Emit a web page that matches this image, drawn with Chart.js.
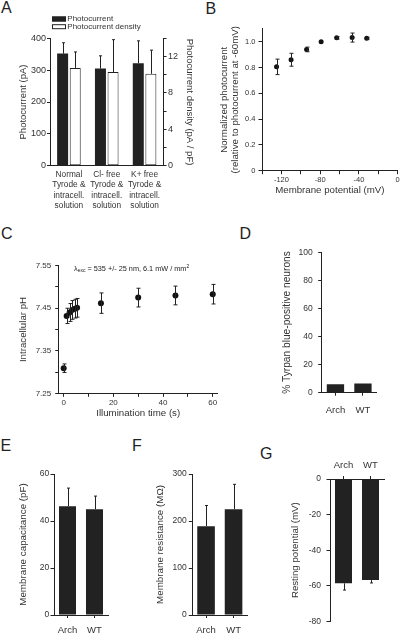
<!DOCTYPE html>
<html><head><meta charset="utf-8">
<script src="https://cdn.jsdelivr.net/npm/chart.js@4.4.0/dist/chart.umd.min.js"></script>
<style>
html,body{margin:0;padding:0;background:#fff;}
body{width:400px;height:633px;position:relative;overflow:hidden;font-family:"Liberation Sans",Arial,sans-serif;color:#222;}
canvas{position:absolute;}
.lbl{position:absolute;font-size:16px;line-height:16px;color:#222;}
</style></head><body>
<div class="lbl" style="left:1px;top:0px">A</div>
<div class="lbl" style="left:205.5px;top:0.5px">B</div>
<div class="lbl" style="left:1px;top:226.3px">C</div>
<div class="lbl" style="left:239.5px;top:226.3px">D</div>
<div class="lbl" style="left:0.5px;top:438px">E</div>
<div class="lbl" style="left:132px;top:438px">F</div>
<div class="lbl" style="left:260px;top:446px">G</div>
<canvas id="cA" width="200" height="201" style="left:0;top:10px"></canvas>
<canvas id="cB" width="200" height="176" style="left:200px;top:20px"></canvas>
<canvas id="cC" width="235" height="170" style="left:0;top:250px"></canvas>
<canvas id="cD" width="130" height="180" style="left:270px;top:240px"></canvas>
<canvas id="cE" width="120" height="173" style="left:0;top:460px"></canvas>
<canvas id="cF" width="120" height="173" style="left:140px;top:460px"></canvas>
<canvas id="cG" width="120" height="193" style="left:280px;top:440px"></canvas>
<script>
// ---------- DATA ----------
// Panel A
const A_CATEGORIES = [['Normal','Tyrode &','intracell.','solution'],['Cl- free','Tyrode &','intracell.','solution'],['K+ free','Tyrode &','intracell.','solution']];
const A_SERIES = ['Photocurrent','Photocurrent density'];
const A_CURRENT = [352, 305, 322];
const A_CURRENT_ERR = [34, 40, 70];
const A_DENSITY = [10.75, 10.3, 10.1];
const A_DENSITY_ERR = [1.75, 3.55, 2.6];
const A_LEFT_TICKS = [0, 100, 200, 300, 400];
const A_LEFT_LABELS = ['0', '100', '200', '300', '400'];
const A_RIGHT_TICKS = [0, 2, 4, 6, 8, 10, 12, 14];
const A_RIGHT_LABELS = ['0', '', '4', '', '8', '', '12', ''];
// Panel B
const B_VOLTAGE = [-125, -110, -94, -79, -63, -47, -32];
const B_NORM = [0.805, 0.86, 0.94, 1.0, 1.03, 1.032, 1.026];
const B_NORM_ERR = [0.06, 0.05, 0.018, 0, 0.01, 0.035, 0.008];
const B_X_TICKS = [-140, -120, -100, -80, -60, -40, -20, 0];
const B_X_LABELS = ['', '-120', '', '-80', '', '-40', '', '0'];
const B_Y_TICKS = [0, 0.2, 0.4, 0.6, 0.8, 1.0];
const B_Y_LABELS = ['0', '0.2', '0.4', '0.6', '0.8', '1.0'];
// Panel C
const C_TIME = [0, 1.2, 2.4, 3.4, 4.5, 5.4, 15, 30, 45, 60];
const C_PH = [7.309, 7.432, 7.440, 7.446, 7.449, 7.451, 7.462, 7.475, 7.480, 7.483];
const C_PH_ERR = [0.01, 0.018, 0.021, 0.022, 0.022, 0.022, 0.024, 0.022, 0.022, 0.023];
const C_X_TICKS = [0, 10, 20, 30, 40, 50, 60];
const C_X_LABELS = ['0', '', '20', '', '40', '', '60'];
const C_Y_TICKS = [7.25, 7.30, 7.35, 7.40, 7.45, 7.50, 7.55];
const C_Y_LABELS = ['7.25', '', '7.35', '', '7.45', '', '7.55'];
const C_NOTE = [['λ', 'main'], ['exc', 'sub'], [' = 535 +/- 25 nm, 6.1 mW / mm', 'main'], ['2', 'sup']];
// Panels D-G
const GROUPS = ['Arch', 'WT'];
const D_TRYPAN = [6.0, 6.6];
const D_Y_TICKS = [0, 20, 40, 60, 80, 100];
const D_Y_LABELS = ['0', '20', '40', '60', '80', '100'];
const E_CAPACITANCE = [46.3, 45.0];
const E_CAPACITANCE_ERR = [7.7, 5.6];
const E_Y_TICKS = [0, 20, 40, 60];
const E_Y_LABELS = ['0', '20', '40', '60'];
const F_RESISTANCE = [189, 225];
const F_RESISTANCE_ERR = [44, 53];
const F_Y_TICKS = [0, 100, 200, 300];
const F_Y_LABELS = ['0', '100', '200', '300'];
const G_RESTING = [-58.6, -56.8];
const G_RESTING_ERR = [3.8, 1.6];
const G_Y_TICKS = [-80, -60, -40, -20, 0];
const G_Y_LABELS = ['-80', '-60', '-40', '-20', '0'];

// ---------- STYLE / HELPERS ----------
const INK = '#222', TXT = '#333', BAR = '#222';
const FONT = '"Liberation Sans", Arial, sans-serif';

const errorBars = {
  id: 'errorBars',
  afterDatasetsDraw(chart, args, opts) {
    const ctx = chart.ctx;
    const cap = (opts.cap || 3) / 2;
    chart.data.datasets.forEach((ds, di) => {
      if (!ds.errors) return;
      const meta = chart.getDatasetMeta(di);
      const ys = chart.scales[meta.yAxisID];
      ctx.save();
      ctx.strokeStyle = INK;
      ctx.lineWidth = 1;
      meta.data.forEach((el, i) => {
        const raw = ds.data[i];
        const v = (raw !== null && typeof raw === 'object') ? raw.y : raw;
        const e = ds.errors[i];
        if (!e) return;
        const x = Math.round(el.x) + 0.5;
        let y1, y2;
        if (ds.errorMode === 'both') {
          y1 = ys.getPixelForValue(v - e);
          y2 = ys.getPixelForValue(v + e);
        } else {
          y1 = ys.getPixelForValue(v);
          y2 = ys.getPixelForValue(v + (v < 0 ? -e : e));
        }
        ctx.beginPath();
        ctx.moveTo(x, y1); ctx.lineTo(x, y2);
        ctx.moveTo(x - cap, y2); ctx.lineTo(x + cap, y2);
        if (ds.errorMode === 'both') { ctx.moveTo(x - cap, y1); ctx.lineTo(x + cap, y1); }
        ctx.stroke();
      });
      ctx.restore();
    });
  }
};

const legendA = {
  id: 'legendA',
  afterDraw(chart) {
    const ctx = chart.ctx;
    const rows = [9, 16.7];
    ctx.save();
    chart.data.datasets.forEach((ds, i) => {
      const yc = rows[i];
      ctx.fillStyle = ds.backgroundColor;
      ctx.fillRect(52, yc - 2.5, 14, 5);
      ctx.strokeStyle = INK; ctx.lineWidth = 1;
      ctx.strokeRect(52.5, yc - 2, 13, 4);
      ctx.fillStyle = TXT;
      ctx.font = '8px ' + FONT;
      ctx.textBaseline = 'middle';
      ctx.textAlign = 'left';
      ctx.fillText(ds.label, 67.3, yc);
    });
    ctx.restore();
  }
};

const noteC = {
  id: 'noteC',
  afterDraw(chart) {
    const ctx = chart.ctx;
    ctx.save();
    ctx.fillStyle = INK;
    ctx.textBaseline = 'alphabetic';
    ctx.textAlign = 'left';
    let x = 74;
    const y = 20.8;
    const style = { main: [7.3, 0], sub: [5, 1.5], sup: [5, -3] };
    C_NOTE.forEach(([t, k]) => {
      const [sz, dy] = style[k];
      ctx.font = sz + 'px ' + FONT;
      ctx.fillText(t, x, y + dy);
      x += ctx.measureText(t).width;
    });
    ctx.restore();
  }
};

function zeroPad(s) { s.paddingLeft = 0; s.paddingRight = 0; s.paddingTop = 0; s.paddingBottom = 0; }

function valueAxis(o) {
  const vertical = o.pos === 'left' || o.pos === 'right';
  return {
    type: 'linear', position: o.pos, min: o.min, max: o.max,
    afterBuildTicks: s => { s.ticks = o.ticks.map(v => ({ value: v })); },
    afterFit: s => { if (vertical) s.width = o.size; else s.height = o.size; zeroPad(s); },
    grid: { display: true, drawOnChartArea: false, drawTicks: true, tickLength: o.tickLen ?? 3.5, color: INK, lineWidth: 1 },
    border: { display: true, color: INK, width: 1 },
    ticks: { font: { family: FONT, size: o.font, lineHeight: 1.2 }, color: TXT, padding: o.pad ?? 1,
             autoSkip: false, maxRotation: 0, minRotation: 0, callback: (v, i) => o.labels[i] },
    title: o.title ? { display: true, text: o.title, color: TXT,
             font: { family: FONT, size: o.titleSize ?? 9.7, lineHeight: (o.titleLH ?? 11) + 'px' },
             padding: { top: o.titlePad ?? 0, bottom: o.titlePad ?? 0 } } : { display: false }
  };
}

function catAxis(o) {
  return {
    type: 'category', position: o.pos ?? 'bottom', offset: true,
    afterFit: s => { s.height = o.size; zeroPad(s); },
    grid: { display: true, offset: false, drawOnChartArea: false, drawTicks: o.tickLen > 0, tickLength: o.tickLen, color: INK, lineWidth: 1 },
    border: { display: true, color: INK, width: 1 },
    ticks: { font: { family: FONT, size: o.font, lineHeight: o.lh ?? 1.2 }, color: TXT, padding: o.pad,
             autoSkip: false, maxRotation: 0, minRotation: 0 }
  };
}

function base(padding, extra) {
  return Object.assign({
    responsive: false, animation: false, devicePixelRatio: 1,
    layout: { autoPadding: false, padding },
    plugins: { legend: { display: false }, tooltip: { enabled: false }, errorBars: { cap: 3 } }
  }, extra || {});
}

// ---------- PANEL A ----------
new Chart(document.getElementById('cA'), {
  type: 'bar',
  data: {
    labels: A_CATEGORIES,
    datasets: [
      { label: A_SERIES[0], data: A_CURRENT, errors: A_CURRENT_ERR, yAxisID: 'y', backgroundColor: BAR, borderWidth: 0,
        categoryPercentage: 0.666, barPercentage: 0.873 },
      { label: A_SERIES[1], data: A_DENSITY, errors: A_DENSITY_ERR, yAxisID: 'y2', backgroundColor: '#fff', borderColor: INK,
        borderWidth: 1, borderSkipped: false, categoryPercentage: 0.666, barPercentage: 0.873 }
    ]
  },
  options: base({ left: 0, top: 28.3, right: 0, bottom: 0 }, {
    scales: {
      x: catAxis({ size: 45.3, font: 8.3, lh: '10.5px', pad: 3.35, tickLen: 0 }),
      y: valueAxis({ pos: 'left', min: 0, max: 400, ticks: A_LEFT_TICKS, labels: A_LEFT_LABELS, size: 50, font: 9, tickLen: 3, pad: 1,
                     title: 'Photocurrent (pA)', titleSize: 9.5, titlePad: 17.5 }),
      y2: valueAxis({ pos: 'right', min: 0, max: 14, ticks: A_RIGHT_TICKS, labels: A_RIGHT_LABELS, size: 36.5, font: 9, tickLen: 3, pad: 1.5,
                     title: 'Photocurrent density (pA / pF)', titleSize: 9.5, titlePad: 4.5 })
    }
  }),
  plugins: [errorBars, legendA]
});

// ---------- PANEL B ----------
new Chart(document.getElementById('cB'), {
  type: 'scatter',
  data: {
    datasets: [{ data: B_VOLTAGE.map((x, i) => ({ x, y: B_NORM[i] })), errors: B_NORM_ERR, errorMode: 'both',
                 pointRadius: 2.5, pointBackgroundColor: '#111', pointBorderWidth: 0, showLine: false }]
  },
  options: base({ left: 0, top: 8.8, right: 2.3, bottom: 0 }, {
    plugins: { legend: { display: false }, tooltip: { enabled: false }, errorBars: { cap: 4 } },
    scales: {
      x: valueAxis({ pos: 'bottom', min: -140, max: 0, ticks: B_X_TICKS, labels: B_X_LABELS, size: 25.3, font: 7.5, tickLen: 3.5, pad: 1,
                     title: 'Membrane potential (mV)', titlePad: 0.5 }),
      y: valueAxis({ pos: 'left', min: 0, max: 1.1, ticks: B_Y_TICKS, labels: B_Y_LABELS, size: 62, font: 7.5, tickLen: 3.5, pad: 3,
                     title: ['Normalized photocurrent', '(relative to photocurrent at -60mV)'], titlePad: 18.5 })
    }
  }),
  plugins: [errorBars]
});

// ---------- PANEL C ----------
new Chart(document.getElementById('cC'), {
  type: 'scatter',
  data: {
    datasets: [{ data: C_TIME.map((x, i) => ({ x, y: C_PH[i] })), errors: C_PH_ERR, errorMode: 'both',
                 pointRadius: 3, pointBackgroundColor: '#111', pointBorderWidth: 0, showLine: false }]
  },
  options: base({ left: 0, top: 15.7, right: 17.3, bottom: 0 }, {
    plugins: { legend: { display: false }, tooltip: { enabled: false }, errorBars: { cap: 4 } },
    scales: {
      x: valueAxis({ pos: 'bottom', min: -2, max: 62, ticks: C_X_TICKS, labels: C_X_LABELS, size: 26.7, font: 8, tickLen: 3.5, pad: 1,
                     title: 'Illumination time (s)', titlePad: 1.2 }),
      y: valueAxis({ pos: 'left', min: 7.25, max: 7.55, ticks: C_Y_TICKS, labels: C_Y_LABELS, size: 58.7, font: 8, tickLen: 3.5, pad: 4,
                     title: 'Intracellular pH', titlePad: 17.5 })
    }
  }),
  plugins: [errorBars, noteC]
});

// ---------- PANEL D ----------
new Chart(document.getElementById('cD'), {
  type: 'bar',
  data: { labels: GROUPS, datasets: [{ data: D_TRYPAN, backgroundColor: BAR, borderWidth: 0, categoryPercentage: 1, barPercentage: 0.63 }] },
  options: base({ left: 0, top: 12.3, right: 23.3, bottom: 0 }, {
    scales: {
      x: catAxis({ size: 27.3, font: 9.5, pad: 9.3, tickLen: 3 }),
      y: valueAxis({ pos: 'left', min: 0, max: 100, ticks: D_Y_TICKS, labels: D_Y_LABELS, size: 51.7, font: 8.5, tickLen: 3.5, pad: 5.5,
                     title: '% Tyrpan blue-positive neurons', titleSize: 10.2, titleLH: 11.5, titlePad: 10.95 })
    }
  }),
  plugins: [errorBars]
});

// ---------- PANEL E ----------
new Chart(document.getElementById('cE'), {
  type: 'bar',
  data: { labels: GROUPS, datasets: [{ data: E_CAPACITANCE, errors: E_CAPACITANCE_ERR, backgroundColor: BAR, borderWidth: 0, categoryPercentage: 1, barPercentage: 0.63 }] },
  options: base({ left: 0, top: 14, right: 12, bottom: 0 }, {
    scales: {
      x: catAxis({ size: 18, font: 9.5, pad: 6.3, tickLen: 3 }),
      y: valueAxis({ pos: 'left', min: 0, max: 60, ticks: E_Y_TICKS, labels: E_Y_LABELS, size: 54, font: 8.5, tickLen: 3.5, pad: 1.2,
                     title: 'Membrane capacitance (pF)', titleSize: 9.8, titlePad: 17.8 })
    }
  }),
  plugins: [errorBars]
});

// ---------- PANEL F ----------
new Chart(document.getElementById('cF'), {
  type: 'bar',
  data: { labels: GROUPS, datasets: [{ data: F_RESISTANCE, errors: F_RESISTANCE_ERR, backgroundColor: BAR, borderWidth: 0, categoryPercentage: 1, barPercentage: 0.64 }] },
  options: base({ left: 0, top: 14, right: 12.7, bottom: 0 }, {
    scales: {
      x: catAxis({ size: 18, font: 9.5, pad: 6.3, tickLen: 3 }),
      y: valueAxis({ pos: 'left', min: 0, max: 300, ticks: F_Y_TICKS, labels: F_Y_LABELS, size: 52.3, font: 8.5, tickLen: 3.5, pad: 2,
                     title: 'Membrane resistance (MΩ)', titleSize: 9.8, titlePad: 14.5 })
    }
  }),
  plugins: [errorBars]
});

// ---------- PANEL G ----------
new Chart(document.getElementById('cG'), {
  type: 'bar',
  data: { labels: GROUPS, datasets: [{ data: G_RESTING, errors: G_RESTING_ERR, backgroundColor: BAR, borderWidth: 0, categoryPercentage: 1, barPercentage: 0.63 }] },
  options: base({ left: 0, top: 0, right: 16, bottom: 11.6 }, {
    scales: {
      x: catAxis({ pos: 'top', size: 39, font: 9.5, pad: 4.6, tickLen: 3 }),
      y: valueAxis({ pos: 'left', min: -80, max: 0, ticks: G_Y_TICKS, labels: G_Y_LABELS, size: 50, font: 8.5, tickLen: 3.5, pad: 5.5,
                     title: 'Resting potential (mV)', titleSize: 9.7, titlePad: 9.5 })
    }
  }),
  plugins: [errorBars]
});
</script>
</body></html>
